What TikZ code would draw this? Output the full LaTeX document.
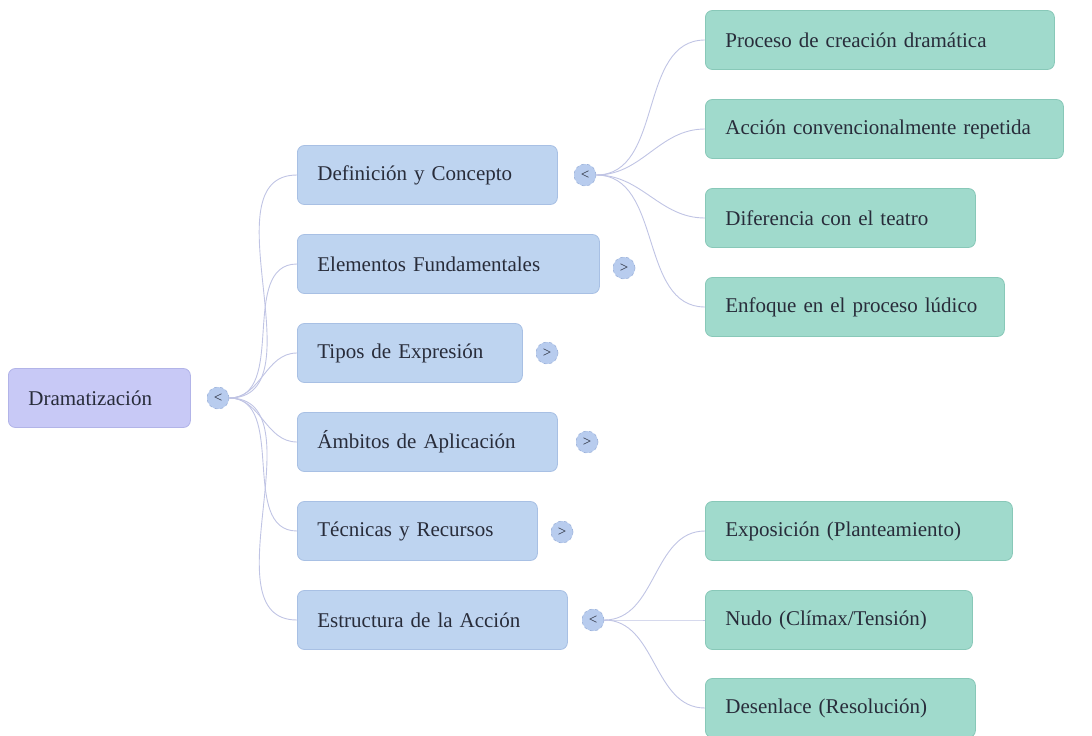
\documentclass[tikz,border=0pt]{standalone}
\usepackage{fontspec}
\setmainfont{Liberation Serif}
\usetikzlibrary{positioning}

\definecolor{ink}{RGB}{40,44,58}
\definecolor{rootfill}{RGB}{200,201,246}
\definecolor{rootline}{RGB}{178,180,232}
\definecolor{bluefill}{RGB}{190,212,240}
\definecolor{blueline}{RGB}{168,192,228}
\definecolor{greenfill}{RGB}{160,218,204}
\definecolor{greenline}{RGB}{136,200,184}
\definecolor{linkcol}{RGB}{192,196,228}
\definecolor{togfill}{RGB}{184,204,238}
\definecolor{togline}{RGB}{156,178,218}

\begin{document}
\begin{tikzpicture}[
    x=1pt, y=-1pt,
    every node/.style={font=\fontsize{21}{25}\selectfont, text=ink},
    box/.style={rounded corners=7pt, anchor=west, align=left, inner xsep=20pt,
                minimum height=59pt, line width=0.8pt},
    rootbox/.style={box, fill=rootfill, draw=rootline},
    bluebox/.style={box, fill=bluefill, draw=blueline},
    greenbox/.style={box, fill=greenfill, draw=greenline},
    toggle/.style={circle, fill=togfill, draw=togline, dashed, line width=0.6pt,
                   minimum size=22pt, inner sep=0pt, font=\fontsize{15}{15}\selectfont},
    link/.style={draw=linkcol, line width=0.9pt}
]
\useasboundingbox (0,0) rectangle (1092,736);

% root
\node[rootbox, text width=142pt] (root) at (8,398) {Dramatización};
\node[toggle] (t0) at (218,398) {<};

% first level
\node[bluebox, text width=220pt] (def) at (297,175) {Definición y Concepto};
\node[bluebox, text width=262pt] (elem) at (297,264) {Elementos Fundamentales};
\node[bluebox, text width=185pt] (tipos) at (297,353) {Tipos de Expresión};
\node[bluebox, text width=220pt] (ambitos) at (297,442) {Ámbitos de Aplicación};
\node[bluebox, text width=200pt] (tecnicas) at (297,531) {Técnicas y Recursos};
\node[bluebox, text width=230pt] (estructura) at (297,620) {Estructura de la Acción};

\node[toggle] (t1) at (585,175) {<};
\node[toggle] (t2) at (624,268) {>};
\node[toggle] (t3) at (547,353) {>};
\node[toggle] (t4) at (587,442) {>};
\node[toggle] (t5) at (562,532) {>};
\node[toggle] (t6) at (593,620) {<};

% second level
\node[greenbox, text width=309pt] (proc) at (705,40) {Proceso de creación dramática};
\node[greenbox, text width=318pt] (accion) at (705,129) {Acción convencionalmente repetida};
\node[greenbox, text width=230pt] (dif) at (705,218) {Diferencia con el teatro};
\node[greenbox, text width=259pt] (enf) at (705,307) {Enfoque en el proceso lúdico};

\node[greenbox, text width=267pt] (expo) at (705,531) {Exposición (Planteamiento)};
\node[greenbox, text width=227pt] (nudo) at (705,620) {Nudo (Clímax/Tensión)};
\node[greenbox, text width=230pt] (desen) at (705,708) {Desenlace (Resolución)};

% links
\foreach \n in {def,elem,tipos,ambitos,tecnicas,estructura}
  \draw[link] (t0.east) to[out=0, in=180] (\n.west);
\foreach \n in {proc,accion,dif,enf}
  \draw[link] (t1.east) to[out=0, in=180] (\n.west);
\foreach \n in {expo,nudo,desen}
  \draw[link] (t6.east) to[out=0, in=180] (\n.west);

\end{tikzpicture}
\end{document}
